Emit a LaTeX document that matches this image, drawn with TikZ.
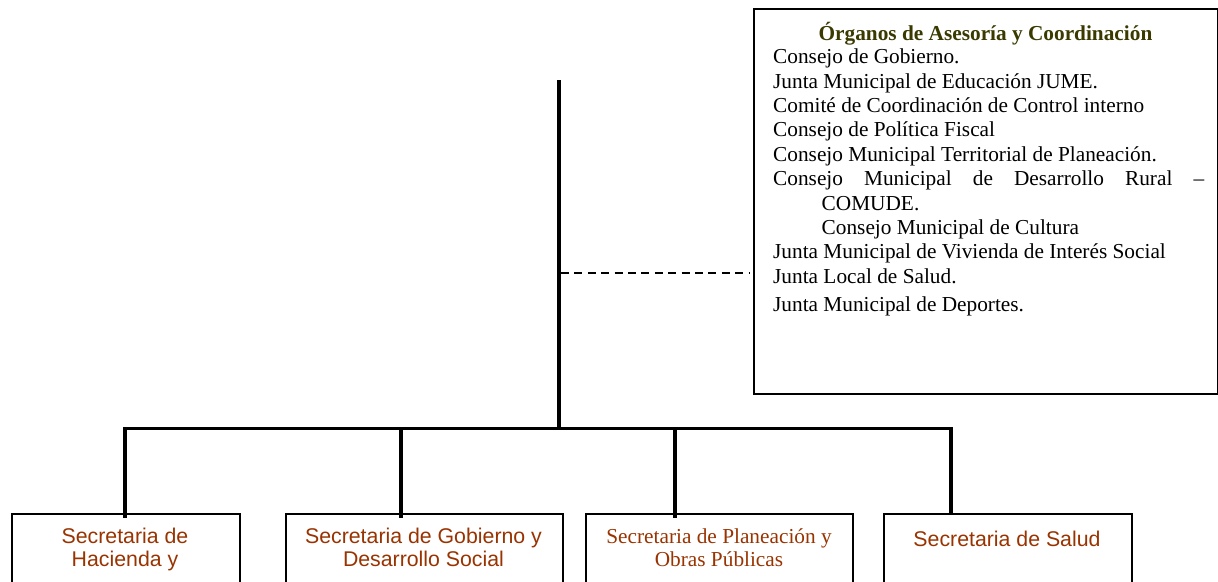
\documentclass[tikz,border=0pt]{standalone}
\usepackage{fontspec}
\setmainfont{Liberation Serif}
\setsansfont{Liberation Sans}
\usepackage{tikz}

\definecolor{secrojo}{HTML}{993300}
\definecolor{oliva}{HTML}{3A3A00}

\begin{document}
\begin{tikzpicture}[x=1pt, y=-1pt,
    linea/.style = {line width=3.8pt, line join=miter},
    caja/.style = {draw, line width=1.6pt, inner sep=0pt},
    sectext/.style = {align=center, inner sep=0pt, anchor=base, text=secrojo,
        font=\fontsize{21.3}{23.5}\selectfont},
    listtext/.style = {align=left, inner sep=0pt, anchor=base west,
        font=\fontsize{21.3}{24.4}\selectfont}]
    \clip (0,0) rectangle (1218,581);
    \fill[white] (0,0) rectangle (1218,581);

    % organos de asesoria
    \node[caja, minimum width=464pt, minimum height=385pt, anchor=north west] (asesoria) at (753,8) {};
    \node[listtext, anchor=base, text=oliva, font=\fontsize{21.3}{24.4}\selectfont\bfseries] (titulo) at (985.5,40) {Órganos de Asesoría y Coordinación};
    \node[listtext] (lista) at (773,311.7) {Consejo de Gobierno.\\
        Junta Municipal de Educación JUME.\\
        Comité de Coordinación de Control interno\\
        Consejo de Política Fiscal\\
        Consejo Municipal Territorial de Planeación.\\
        \makebox[431pt][s]{Consejo Municipal de Desarrollo Rural –}\\
        \hspace*{48.5pt}COMUDE.\\
        \hspace*{48.5pt}Consejo Municipal de Cultura\\
        Junta Municipal de Vivienda de Interés Social\\
        Junta Local de Salud.\\[4pt]
        Junta Municipal de Deportes.};

    % secretarias
    \node[caja, minimum width=228pt, minimum height=120pt, anchor=north west] (hacienda) at (11,513) {};
    \node[caja, minimum width=277pt, minimum height=120pt, anchor=north west] (gobierno) at (285,513) {};
    \node[caja, minimum width=267pt, minimum height=120pt, anchor=north west] (planeacion) at (585,513) {};
    \node[caja, minimum width=248pt, minimum height=120pt, anchor=north west] (salud) at (883,513) {};
    \node[sectext, font=\sffamily\fontsize{21.3}{23.5}\selectfont] (thacienda) at (125,566.7) {Secretaria de\\Hacienda y};
    \node[sectext, font=\sffamily\fontsize{21.3}{23.5}\selectfont] (tgobierno) at (423.5,566.7) {Secretaria de Gobierno y\\Desarrollo Social};
    \node[sectext] (tplaneacion) at (719,566.7) {Secretaria de Planeación y\\Obras Públicas};
    \node[sectext, font=\sffamily\fontsize{21.3}{23.5}\selectfont] (tsalud) at (1007,546) {Secretaria de Salud};

    % lineas
    \coordinate (alcalde) at (559,80);
    \coordinate (centro) at (559,428.5);
    \coordinate (rama) at (559,273);
    \coordinate (d1) at (125,428.5);
    \coordinate (d2) at (401,428.5);
    \coordinate (d3) at (675,428.5);
    \coordinate (d4) at (951,428.5);
    \draw[linea] (alcalde) -- (centro);
    \draw[linea] ([yshift=-5pt]d1 |- hacienda.north) -- (d1) -- (d4) -- (d4 |- salud.north);
    \draw[linea] (d2) -- ([yshift=-5pt]d2 |- gobierno.north);
    \draw[linea] (d3) -- ([yshift=-5pt]d3 |- planeacion.north);
    \draw[line width=1.5pt, dash pattern=on 8pt off 5.4pt] ([xshift=2pt]rama) -- ([xshift=-3pt]rama -| asesoria.west);
\end{tikzpicture}
\end{document}
